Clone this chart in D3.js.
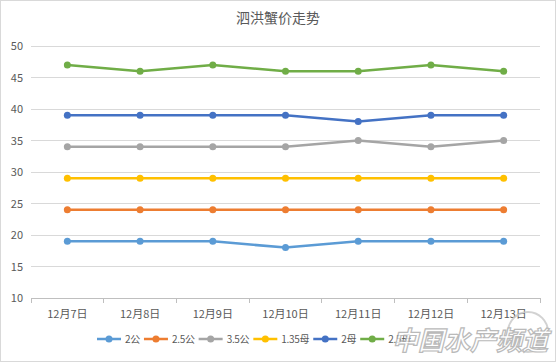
<!DOCTYPE html>
<html><head><meta charset="utf-8">
<script src="https://cdn.jsdelivr.net/npm/d3@7/dist/d3.min.js"></script>
<style>body{margin:0;background:#fff}svg{display:block}</style>
</head><body>
<svg id="c" width="556" height="362"></svg>
<script>
const categories = ["12月7日","12月8日","12月9日","12月10日","12月11日","12月12日","12月13日"];
const seriesNames = ["2公","2.5公","3.5公","1.35母","2母","2.5母"];
const s2gong   = [19,19,19,18,19,19,19];
const s25gong  = [24,24,24,24,24,24,24];
const s35gong  = [34,34,34,34,35,34,35];
const s135mu   = [29,29,29,29,29,29,29];
const s2mu     = [39,39,39,39,38,39,39];
const s25mu    = [47,46,47,46,46,47,46];
const yTicks = [10,15,20,25,30,35,40,45,50];
const colors = ["#5B9BD5","#ED7D31","#A5A5A5","#FFC000","#4472C4","#70AD47"];
const seriesVals = [s2gong,s25gong,s35gong,s135mu,s2mu,s25mu];

const svg = d3.select("#c");
const font = "'Noto Sans CJK SC', 'Microsoft YaHei', sans-serif";
svg.append("rect").attr("x",0.5).attr("y",0.5).attr("width",555).attr("height",361)
  .attr("fill","#fff").attr("stroke","#d9d9d9");

const x = d3.scaleBand().domain(categories).range([31,540]);
const y = d3.scaleLinear().domain([10,50]).range([298,46]);

// gridlines
svg.append("g").selectAll("line").data(yTicks.slice(1)).join("line")
  .attr("x1",31).attr("x2",540).attr("y1",d=>y(d)).attr("y2",d=>y(d))
  .attr("stroke","#d9d9d9").attr("stroke-width",1).attr("shape-rendering","crispEdges");

// y axis labels
const ya = svg.append("g").attr("transform","translate(31,0)")
  .call(d3.axisLeft(y).tickValues(yTicks).tickSize(0).tickPadding(8));
ya.select(".domain").remove();
ya.selectAll("text").attr("fill","#595959").style("font-family",font).style("font-size","11px");

// x axis
const xa = svg.append("g").attr("transform","translate(0,298)")
  .call(d3.axisBottom(x).tickSize(0).tickPadding(12));
xa.select(".domain").attr("stroke","#bfbfbf").attr("shape-rendering","crispEdges");
xa.selectAll("text").attr("fill","#595959").style("font-family",font).style("font-size","11px");
const bounds = categories.map(c=>x(c)).concat([x.range()[1]]);
xa.append("g").selectAll("line").data(bounds).join("line")
  .attr("x1",d=>d).attr("x2",d=>d).attr("y1",0).attr("y2",5)
  .attr("stroke","#bfbfbf").attr("shape-rendering","crispEdges");

// title
svg.append("text").attr("x",278).attr("y",23).attr("text-anchor","middle")
  .attr("fill","#595959").style("font-family",font).style("font-size","14px").text("泗洪蟹价走势");

// lines
const line = d3.line().x((d,i)=>x(categories[i])+x.bandwidth()/2).y(d=>y(d));
seriesVals.forEach((vals,k)=>{
  const g = svg.append("g");
  g.append("path").datum(vals).attr("d",line).attr("fill","none")
    .attr("stroke",colors[k]).attr("stroke-width",2.5).attr("stroke-linejoin","round");
  g.selectAll("circle").data(vals).join("circle")
    .attr("cx",(d,i)=>x(categories[i])+x.bandwidth()/2).attr("cy",d=>y(d)).attr("r",3.5)
    .attr("fill",colors[k]);
});

// legend (sequential layout from measured text widths)
const lg = svg.append("g");
let lx = 97;
seriesNames.forEach((n,k)=>{
  const g = lg.append("g").attr("transform",`translate(${lx},339)`);
  g.append("line").attr("x1",0).attr("x2",24).attr("y1",0).attr("y2",0)
    .attr("stroke",colors[k]).attr("stroke-width",2.5);
  g.append("circle").attr("cx",12).attr("cy",0).attr("r",3.5).attr("fill",colors[k]);
  const t = g.append("text").attr("x",28).attr("y",3.5).attr("fill","#595959")
    .style("font-family",font).style("font-size","10px").style("letter-spacing","-0.3px").text(n);
  lx += 28 + t.node().getComputedTextLength() + 4;
});

// watermark
const wm = svg.append("g").attr("opacity",0.8);
wm.append("circle").attr("cx",528).attr("cy",332).attr("r",20).attr("fill","none")
  .attr("stroke","#c8c8c8").attr("stroke-width",2);
wm.append("text").attr("x",392).attr("y",350).attr("fill","#fff").attr("stroke","#aaa")
  .attr("stroke-width",1.2).style("font-family",font).style("font-size","26px")
  .style("font-weight","bold").style("font-style","italic").text("中国水产频道");
</script>
</body></html>
